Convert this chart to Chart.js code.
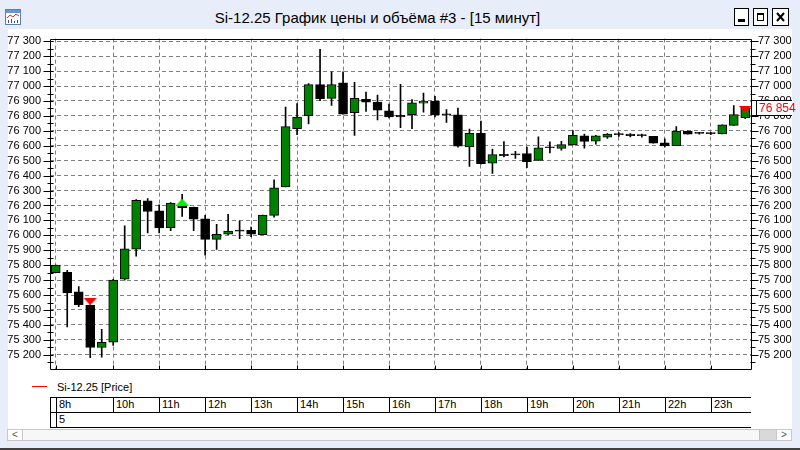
<!DOCTYPE html>
<html>
<head>
<meta charset="utf-8">
<script src="https://cdn.jsdelivr.net/npm/chart.js@4.4.1/dist/chart.umd.min.js"></script>
<style>
html,body{margin:0;padding:0;}
body{width:800px;height:450px;overflow:hidden;position:relative;background:#e8eef9;font-family:"Liberation Sans",Arial,sans-serif;color:#000;}
#title{position:absolute;left:22px;width:711px;top:9px;text-align:center;font-size:15px;line-height:18px;white-space:nowrap;}
#icon{position:absolute;left:5px;top:9px;}
.btn{position:absolute;top:8px;width:15px;height:18px;border:1px solid #000;background:#fff;box-sizing:border-box;}
#panel{position:absolute;left:8px;top:29px;width:784px;height:400px;background:#fff;}
#cwrap{position:absolute;left:0px;top:30px;width:800px;height:348px;}
#legline{position:absolute;left:32px;top:386px;width:15px;height:1px;background:#ff0000;}
#legtext{position:absolute;left:57px;top:380px;font-size:11px;line-height:14px;white-space:nowrap;}
.hl{position:absolute;height:1px;background:#000;}
.vl{position:absolute;width:1px;background:#000;}
.cell{position:absolute;top:397px;height:15px;border-left:1px solid #000;box-sizing:border-box;font-size:11px;line-height:15px;padding-left:2px;white-space:nowrap;}
#row2{position:absolute;left:59px;top:412px;font-size:11px;line-height:15px;}
#sb{position:absolute;left:7px;top:429px;width:785px;height:12px;background:#f7f7f7;border-top:1px solid #c8c8c8;border-bottom:1px solid #c8c8c8;box-sizing:border-box;}
.sbb{position:absolute;top:429px;height:12px;box-sizing:border-box;border:1px solid #c8c8c8;background:#fdfdfd;font-size:10px;line-height:10px;text-align:center;color:#555;}
#bottomline{position:absolute;left:0;top:448px;width:800px;height:2px;background:#404040;}
</style>
</head>
<body>
<svg id="icon" width="16" height="16" viewBox="0 0 16 16">
  <rect x="0.5" y="0.5" width="15" height="15" fill="#ffffff" stroke="#5a7fb8"/>
  <rect x="1" y="1" width="14" height="3" fill="#6f93cc"/>
  <polyline points="2,9 5,6 8,8 11,5 14,7" fill="none" stroke="#e03030" stroke-width="1"/>
  <rect x="3" y="11" width="1" height="3" fill="#3050a0"/>
  <rect x="6" y="10" width="1" height="4" fill="#3050a0"/>
  <rect x="9" y="12" width="1" height="2" fill="#3050a0"/>
  <rect x="12" y="11" width="1" height="3" fill="#3050a0"/>
</svg>
<div id="title">Si-12.25 График цены и объёма #3 - [15 минут]</div>
<div class="btn" style="left:734px;"><div style="position:absolute;left:3px;top:10px;width:7px;height:3px;background:#000;"></div></div>
<div class="btn" style="left:753px;"><div style="position:absolute;left:3px;top:4px;width:7px;height:8px;border:1px solid #000;border-top-width:2px;box-sizing:border-box;"></div></div>
<div class="btn" style="left:772px;width:17px;"><svg width="15" height="16" style="position:absolute;left:0;top:0"><path d="M4 4 L11 12 M11 4 L4 12" stroke="#000" stroke-width="2"/></svg></div>
<div id="panel"></div>
<div id="cwrap"><canvas id="c" width="800" height="348"></canvas></div>
<div id="legline"></div>
<div id="legtext">Si-12.25 [Price]</div>
<div id="table"></div>
<div id="row2">5</div>
<div id="sb"></div>
<div class="sbb" style="left:7px;width:16px;">&lt;</div>
<div style="position:absolute;left:759px;top:430px;width:17px;height:10px;background:#d9d9d9;border-left:1px solid #c0c0c0;"></div>
<div class="sbb" style="left:776px;width:16px;">&gt;</div>
<div id="bottomline"></div>
<script>
// ---- data (15-minute candles) ----
const times = ["8:45","9:00","9:15","9:30","9:45",
"10:00","10:15","10:30","10:45","11:00","11:15","11:30","11:45",
"12:00","12:15","12:30","12:45","13:00","13:15","13:30","13:45",
"14:00","14:15","14:30","14:45","15:00","15:15","15:30","15:45",
"16:00","16:15","16:30","16:45","17:00","17:15","17:30","17:45",
"18:00","18:15","18:30","18:45","19:00","19:15","19:30","19:45",
"20:00","20:15","20:30","20:45","21:00","21:15","21:30","21:45",
"22:00","22:15","22:30","22:45","23:00","23:15","23:30","23:45"];
const opens  = [75750,75752,75622,75531,75249,75284,75707,75908,76231,76164,76051,76199,76188,
76110,75973,76008,76028,76034,76004,76134,76325,76715,76801,77010,76918,77022,76821,76912,76892,
76834,76804,76808,76886,76899,76808,76808,76593,76684,76483,76543,76539,76548,76502,76587,76582,
76605,76666,76631,76657,76675,76679,76668,76664,76620,76601,76698,76690,76683,76679,76737,76787];
const highs  = [75800,75765,75657,75535,75370,75705,76064,76240,76246,76205,76220,76275,76190,
76134,76073,76140,76097,76056,76136,76372,76860,76882,77016,77246,77096,77096,77025,76960,76940,
76879,77012,76910,76953,76931,76843,76853,76712,76765,76578,76628,76563,76591,76660,76626,76629,
76701,76679,76670,76681,76688,76681,76679,76664,76646,76729,76698,76690,76690,76740,76870,76860];
const lows   = [75750,75386,75523,75180,75184,75262,75700,75861,76017,76017,76032,76127,76032,
75867,75906,76004,75978,75991,76004,76121,76325,76674,76747,76903,76871,76812,76669,76830,76773,
76786,76721,76715,76825,76793,76756,76591,76461,76476,76415,76526,76515,76454,76502,76552,76571,
76605,76584,76610,76649,76662,76660,76657,76618,76592,76601,76677,76677,76675,76679,76737,76781];
const closes = [75800,75614,75536,75249,75284,75700,75910,76234,76160,76049,76216,76186,76108,
75973,76006,76028,76028,76008,76136,76318,76728,76793,77010,76916,77010,76812,76918,76892,76838,
76793,76793,76888,76899,76806,76808,76598,76684,76480,76541,76533,76539,76494,76587,76587,76608,
76670,76629,76666,76679,76675,76668,76668,76618,76599,76698,76677,76683,76681,76740,76809,76854];
const sellIdx = [3, 60];
const sellPrice = [75556, 76843];
const buyIdx = [11];
const buyPrice = [76223];
const volumeRowLabel = "5";
const yMin = 75102, yMax = 77318;

// ---- helpers ----
const fmt = v => String(Math.round(v)).replace(/\B(?=(\d{3})+(?!\d))/g, ' ');
// hour marks: first candle of each hour, skipping ones too close to the previous mark
const hourIdx = [];
times.forEach((t, i) => {
  if (i === 0 || t.endsWith(':00')) {
    if (!hourIdx.length || i - hourIdx[hourIdx.length - 1] >= 3) hourIdx.push(i);
  }
});
const hourSet = new Set(hourIdx);
const hourText = i => times[i].split(':')[0] + 'h';
const FONT = '"Liberation Sans",Arial,sans-serif';

function tri(color, up) {
  const c = document.createElement('canvas'); c.width = 13; c.height = 7;
  const g = c.getContext('2d'); g.fillStyle = color; g.beginPath();
  if (up) { g.moveTo(6.5,0); g.lineTo(13,7); g.lineTo(0,7); }
  else { g.moveTo(0,0); g.lineTo(13,0); g.lineTo(6.5,7); }
  g.closePath(); g.fill(); return c;
}
const sellData = times.map(() => null); sellIdx.forEach((i,k) => sellData[i] = sellPrice[k]);
const buyData = times.map(() => null); buyIdx.forEach((i,k) => buyData[i] = buyPrice[k]);

const wickData = times.map((t,i) => [lows[i], highs[i]]);
const bodyData = times.map((t,i) => [Math.min(opens[i], closes[i]), Math.max(opens[i], closes[i])]);
const bodyColors = times.map((t,i) => closes[i] > opens[i] ? '#008000' : '#000000');

const PANEL_RIGHT = 792;
const decor = {
  id: 'decor',
  afterDraw(chart) {
    const {ctx, chartArea: a, scales} = chart;
    const y = scales.y, x = scales.x;
    ctx.save();
    ctx.setLineDash([]);
    ctx.strokeStyle = '#000'; ctx.lineWidth = 1;
    const L = Math.round(a.left) + 0.5, R = Math.round(a.right) + 0.5;
    const T = Math.round(a.top) + 0.5, B = Math.round(a.bottom) + 0.5;
    ctx.beginPath();
    ctx.rect(L, T, R - L, B - T);
    for (let v = Math.ceil(y.min / 50) * 50; v <= y.max; v += 50) {
      const py = Math.round(y.getPixelForValue(v)) + 0.5;
      const major = v % 100 === 0;
      ctx.moveTo(L - (major ? 7 : 3), py); ctx.lineTo(L + 3, py);
      ctx.moveTo(R - 1, py); ctx.lineTo(R + (major ? 7 : 4), py);
    }
    hourIdx.forEach(i => {
      const px = Math.round(x.getPixelForValue(i)) + 0.5;
      ctx.moveTo(px, B - 4); ctx.lineTo(px, B);
    });
    ctx.stroke();
    // last price tag
    const last = closes[closes.length - 1];
    const py = Math.round(y.getPixelForValue(last));
    const bx = Math.round(a.right) + 5;
    ctx.fillStyle = '#fff';
    ctx.fillRect(R + 0.5, py - 8, PANEL_RIGHT - R, 16);
    ctx.beginPath();
    ctx.moveTo(R, py - 7.5); ctx.lineTo(PANEL_RIGHT, py - 7.5);
    ctx.moveTo(R, py + 7.5); ctx.lineTo(PANEL_RIGHT, py + 7.5);
    ctx.moveTo(bx + 0.5, py - 8); ctx.lineTo(bx + 0.5, py + 8);
    ctx.stroke();
    ctx.fillStyle = '#ff0000';
    ctx.font = '12px ' + FONT;
    ctx.textBaseline = 'middle';
    ctx.fillText(fmt(last), bx + 3, py + 1);
    ctx.restore();
  }
};

const buildYTicks = s => {
  const arr = [];
  for (let v = Math.ceil(s.min / 50) * 50; v <= s.max; v += 50) arr.push({ value: v });
  s.ticks = arr;
};
const yTickCommon = {
  autoSkip: false, color: '#000',
  font: { family: FONT, size: 11 },
  callback: v => (v % 100 === 0 ? fmt(v) : '')
};

const chart = new Chart(document.getElementById('c'), {
  type: 'bar',
  data: {
    labels: times,
    datasets: [
      { type: 'line', data: sellData, yAxisID: 'y', showLine: false, pointStyle: tri('#ff0000', false), pointRadius: 7, order: 0 },
      { type: 'line', data: buyData, yAxisID: 'y', showLine: false, pointStyle: tri('#00ee00', true), pointRadius: 7, order: 0 },
      { data: bodyData, yAxisID: 'y', grouped: false, barThickness: 9, minBarLength: 1, backgroundColor: bodyColors, borderColor: '#000', borderWidth: 1, borderSkipped: false, order: 1 },
      { data: wickData, yAxisID: 'y', grouped: false, barThickness: 1, backgroundColor: '#000', borderWidth: 0, order: 2 }
    ]
  },
  options: {
    responsive: false, animation: false, devicePixelRatio: 1,
    layout: { padding: { top: 5, bottom: 3, left: 0, right: 0 } },
    plugins: { legend: { display: false }, tooltip: { enabled: false } },
    scales: {
      x: {
        type: 'category', offset: true,
        grid: { offset: false, drawTicks: false, color: c => hourSet.has(c.index) ? '#808080' : 'rgba(0,0,0,0)' },
        border: { display: false, dash: [4, 3] },
        ticks: { display: false, autoSkip: false },
        afterFit: s => { s.height = 0; }
      },
      y: {
        position: 'left', min: yMin, max: yMax,
        afterBuildTicks: buildYTicks,
        ticks: Object.assign({ padding: 2 }, yTickCommon),
        grid: { color: c => (c.tick && c.tick.value % 100 === 0) ? '#808080' : 'rgba(0,0,0,0)', tickLength: 7, tickColor: 'rgba(0,0,0,0)' },
        border: { display: false, dash: [4, 3] },
        afterFit: s => { s.width = 50; }
      },
      y2: {
        position: 'right', min: yMin, max: yMax,
        afterBuildTicks: buildYTicks,
        ticks: Object.assign({ padding: 2 }, yTickCommon),
        grid: { drawOnChartArea: false, tickLength: 5, tickColor: 'rgba(0,0,0,0)' },
        border: { display: false },
        afterFit: s => { s.width = 49; }
      }
    }
  },
  plugins: [decor]
});

// ---- time table under the chart, aligned to the chart's x scale ----
(function buildTable() {
  const offX = 0;
  const xs = chart.scales.x, a = chart.chartArea;
  const left = Math.round(a.left) + offX, right = Math.round(a.right) + offX;
  const pos = hourIdx.map(i => Math.round(xs.getPixelForValue(i)) + offX);
  const tb = document.getElementById('table');
  const add = (cls, st) => { const d = document.createElement('div'); d.className = cls; Object.assign(d.style, st); tb.appendChild(d); return d; };
  [397, 412, 427].forEach(t => add('hl', { left: left + 'px', top: t + 'px', width: (right - left) + 'px' }));
  add('vl', { left: left + 'px', top: '397px', height: '31px' });
  add('vl', { left: pos[0] + 'px', top: '397px', height: '31px' });
  hourIdx.forEach((idx, k) => {
    const x0 = pos[k], x1 = k + 1 < pos.length ? pos[k + 1] : right;
    const d = add('cell', { left: x0 + 'px', width: (x1 - x0) + 'px' });
    d.textContent = hourText(idx);
  });
  document.getElementById('row2').textContent = volumeRowLabel;
})();
</script>
</body>
</html>
